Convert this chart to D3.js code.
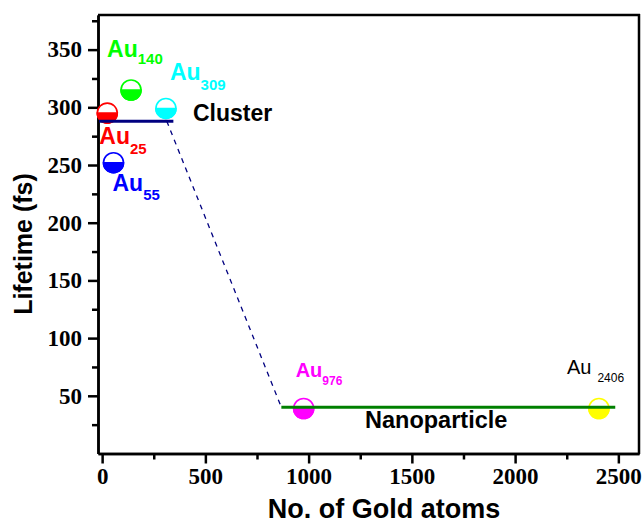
<!DOCTYPE html>
<html><head><meta charset="utf-8">
<script src="https://cdn.jsdelivr.net/npm/d3@7"></script>
<style>body{margin:0;background:#fff}svg{display:block}</style>
</head><body>
<svg id="c" width="643" height="523"></svg>
<script>
// ---- data ----
const names = ["Au25", "Au55", "Au140", "Au309", "Au976", "Au2406"];
const atoms = [25, 55, 140, 309, 976, 2406];
const lifetimes = [295, 252, 315, 299, 39, 39];
const colors = ["#ff0000", "#0000ff", "#00ff00", "#00ffff", "#ff00ff", "#ffff00"];
const subs = ["25", "55", "140", "309", "976", "2406"];
const clusterLine = [[-15, 288], [345, 288]];
const transitionLine = [[313, 288], [868, 40]];
const nanoLine = [[868, 40], [2485, 40]];
const xTicks = [0, 500, 1000, 1500, 2000, 2500];
const yTicks = [50, 100, 150, 200, 250, 300, 350];

const svg = d3.select("#c");
const x = d3.scaleLinear().domain([-20, 2600]).range([98, 639]);
const y = d3.scaleLinear().domain([0, 380]).range([453.5, 15]);

const AX = "#000";
const SERIF = "Liberation Serif, DejaVu Serif, serif";
// frame
svg.append("line").attr("x1", 98).attr("x2", 640).attr("y1", 15).attr("y2", 15).attr("stroke", AX).attr("stroke-width", 2.5);
svg.append("line").attr("x1", 639).attr("x2", 639).attr("y1", 14).attr("y2", 454).attr("stroke", AX).attr("stroke-width", 2.5);

// axes
const fmt = d3.format("d");
const xAxis = d3.axisBottom(x).tickValues(xTicks).tickFormat(fmt).tickSize(10).tickSizeOuter(0).tickPadding(4);
const xMinor = d3.axisBottom(x).tickValues(d3.range(250, 2600, 500)).tickSize(6).tickFormat("").tickSizeOuter(0);
const yAxis = d3.axisLeft(y).tickValues(yTicks).tickFormat(fmt).tickSize(10).tickSizeOuter(0).tickPadding(6);
const yMinor = d3.axisLeft(y).tickValues(d3.range(25, 380, 50)).tickSize(6).tickFormat("").tickSizeOuter(0);

function styleAxis(g) {
  g.attr("font-family", SERIF).attr("font-size", 23).attr("font-weight", "bold");
  g.select(".domain").attr("stroke", AX).attr("stroke-width", 2.5);
  g.selectAll(".tick line").attr("stroke", AX).attr("stroke-width", 2.5);
  g.selectAll(".tick text").attr("fill", AX).attr("font-family", SERIF).attr("font-weight", "bold").attr("font-size", 23);
}
svg.append("g").attr("transform", "translate(0,453.5)").call(xMinor).call(styleAxis);
svg.append("g").attr("transform", "translate(0,453.5)").call(xAxis).call(styleAxis);
svg.append("g").attr("transform", "translate(98,0)").call(yMinor).call(styleAxis);
svg.append("g").attr("transform", "translate(98,0)").call(yAxis).call(styleAxis);

// axis titles
const SANS = "'Liberation Sans',Arial,Helvetica,sans-serif";
svg.append("text").attr("x", 384).attr("y", 518).attr("text-anchor", "middle")
  .style("font-family", SANS).style("font-weight", "bold").style("font-size", "27px").text("No. of Gold atoms");
svg.append("text").attr("transform", "translate(32,244) rotate(-90)").attr("text-anchor", "middle")
  .style("font-family", SANS).style("font-weight", "bold").style("font-size", "25px").text("Lifetime (fs)");

// markers: half-filled circles
const R = 10;
const pts = svg.append("g");
atoms.forEach((a, i) => {
  const cx = x(a), cy = y(lifetimes[i]);
  const g = pts.append("g").attr("transform", `translate(${cx},${cy})`);
  g.append("circle").attr("r", R).attr("fill", "#fff").attr("stroke", colors[i]).attr("stroke-width", 1.6);
  g.append("path").attr("d", `M${-R},0 A${R},${R} 0 0 0 ${R},0 Z`).attr("fill", colors[i]).attr("stroke", colors[i]).attr("stroke-width", 1.6);
});

// lines
const line = d3.line().x(d => x(d[0])).y(d => y(d[1]));
svg.append("path").attr("d", line(clusterLine)).attr("stroke", "#000080").attr("stroke-width", 3).attr("fill", "none");
svg.append("path").attr("d", line(transitionLine)).attr("stroke", "#000080").attr("stroke-width", 1.3)
  .attr("stroke-dasharray", "5,5").attr("fill", "none");
svg.append("path").attr("d", line(nanoLine)).attr("stroke", "#008000").attr("stroke-width", 3).attr("fill", "none");

// labels (offsets relative to each marker)
const labelStyle = [
  {dx: -8, dy: 31, size: 23, sub: 15, bold: true, sdy: 10},   // Au25
  {dx: -1, dy: 28, size: 23, sub: 15, bold: true, sdy: 9},    // Au55
  {dx: -24, dy: -33, size: 23, sub: 15, bold: true, sdy: 7},  // Au140
  {dx: 4, dy: -28, size: 23, sub: 15, bold: true, sdy: 10},   // Au309
  {dx: -8, dy: -31, size: 20, sub: 12, bold: true, sdy: 8},   // Au976
  {dx: -32, dy: -34, size: 20, sub: 12, bold: false, sdy: 8, gap: true} // Au2406
];
names.forEach((n, i) => {
  const s = labelStyle[i];
  const t = svg.append("text").attr("x", x(atoms[i]) + s.dx).attr("y", y(lifetimes[i]) + s.dy)
    .attr("fill", i === 5 ? "#000" : colors[i])
    .style("font-family", SANS).style("font-weight", s.bold ? "bold" : "normal").style("font-size", s.size + "px");
  t.append("tspan").text("Au");
  t.append("tspan").attr("dy", s.sdy).attr("dx", s.gap ? 6 : 0).style("font-size", s.sub + "px").text(subs[i]);
});

svg.append("text").attr("x", 193).attr("y", 121).style("font-family", SANS).style("font-weight", "bold")
  .style("font-size", "23px").text("Cluster");
svg.append("text").attr("x", 365).attr("y", 428).style("font-family", SANS).style("font-weight", "bold")
  .style("font-size", "23.5px").text("Nanoparticle");
</script>
</body></html>
